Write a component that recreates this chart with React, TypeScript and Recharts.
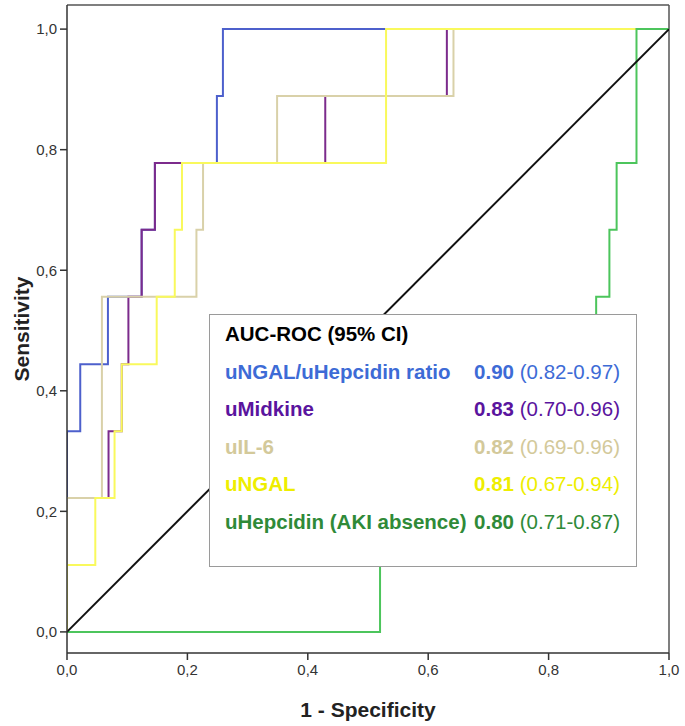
import React from "react";
import { LineChart, Line, XAxis, YAxis, Legend, ReferenceLine } from "recharts";

// ROC corner points (1 - specificity, sensitivity)
const ratioFpr = [0, 0, 0.022, 0.068, 0.124, 0.146, 0.249, 0.259, 1];
const ratioSens = [0, 0.333, 0.444, 0.556, 0.667, 0.778, 0.889, 1, 1];

const midkineFpr = [0, 0, 0.069, 0.091, 0.102, 0.124, 0.146, 0.429, 0.631, 1];
const midkineSens = [0, 0.222, 0.333, 0.444, 0.556, 0.667, 0.778, 0.889, 1, 1];

const il6Fpr = [0, 0, 0.058, 0.215, 0.226, 0.349, 0.642, 1];
const il6Sens = [0, 0.222, 0.556, 0.667, 0.778, 0.889, 1, 1];

const ngalFpr = [0, 0, 0.047, 0.079, 0.091, 0.149, 0.179, 0.191, 0.53, 1];
const ngalSens = [0, 0.111, 0.222, 0.333, 0.444, 0.556, 0.667, 0.778, 1, 1];

const hepcidinFpr = [0, 0.52, 0.879, 0.901, 0.913, 0.946, 1];
const hepcidinSens = [0, 0.444, 0.556, 0.667, 0.778, 1, 1];

const referenceFpr = [0, 1];
const referenceSens = [0, 1];

const axisTicks = [0, 0.2, 0.4, 0.6, 0.8, 1];

const markerNames = ["uNGAL/uHepcidin ratio", "uMidkine", "uIL-6", "uNGAL", "uHepcidin (AKI absence)"];
const aucValues = ["0.90", "0.83", "0.82", "0.81", "0.80"];
const aucIntervals = ["(0.82-0.97)", "(0.70-0.96)", "(0.69-0.96)", "(0.67-0.94)", "(0.71-0.87)"];
const textColors = ["#3d6bd6", "#5a149e", "#d3c99a", "#eeee00", "#2f8a38"];
const lineColors = ["#4d60cc", "#7c2b8c", "#d9d1a9", "#f9f95c", "#4cc55c"];

const toPoints = (fpr: number[], sens: number[]) => fpr.map((x, i) => ({ x, y: sens[i] }));

const curves = [
  toPoints(ratioFpr, ratioSens),
  toPoints(midkineFpr, midkineSens),
  toPoints(il6Fpr, il6Sens),
  toPoints(ngalFpr, ngalSens),
  toPoints(hepcidinFpr, hepcidinSens),
];

const FONT = "Arial, 'Liberation Sans', sans-serif";
const fmt = (v: number) => v.toFixed(1).replace(".", ",");

function AucBox() {
  return (
    <div
      style={{
        width: 428,
        height: 253,
        border: "1px solid #9a9a9a",
        background: "#fff",
        fontFamily: FONT,
        fontSize: 20.5,
        lineHeight: "37.6px",
        padding: "0 16px 0 15px",
        boxSizing: "border-box",
      }}
    >
      <div style={{ fontWeight: "bold", color: "#000" }}>AUC-ROC (95% CI)</div>
      {markerNames.map((name, i) => (
        <div key={name} style={{ display: "flex", justifyContent: "space-between", color: textColors[i], whiteSpace: "nowrap" }}>
          <span style={{ fontWeight: "bold" }}>{name}</span>
          <span>
            <b>{aucValues[i]}</b> {aucIntervals[i]}
          </span>
        </div>
      ))}
    </div>
  );
}

export default function App() {
  return (
    <div style={{ position: "absolute", left: 0, top: 0, background: "#fff" }}>
      <LineChart width={685} height={726} margin={{ top: 5, right: 16, left: 0, bottom: 0 }}>
        <XAxis
          type="number"
          dataKey="x"
          domain={[0, 1]}
          ticks={axisTicks}
          tickFormatter={fmt}
          height={73}
          tickSize={7}
          tickMargin={4}
          stroke="#333"
          strokeWidth={1.5}
          tick={{ fill: "#333", fontSize: 15, fontFamily: FONT }}
          label={{ value: "1 - Specificity", position: "insideBottom", offset: 9, style: { fontFamily: FONT, fontSize: 21, fontWeight: "bold", fill: "#222" } }}
          allowDataOverflow
        />
        <YAxis
          type="number"
          dataKey="y"
          domain={[-0.035, 1.04]}
          ticks={axisTicks}
          tickFormatter={fmt}
          width={67}
          tickSize={7}
          tickMargin={3}
          stroke="#333"
          strokeWidth={1.5}
          tick={{ fill: "#333", fontSize: 15, fontFamily: FONT }}
          label={{ value: "Sensitivity", angle: -90, position: "insideLeft", offset: 22, style: { textAnchor: "middle", fontFamily: FONT, fontSize: 21, fontWeight: "bold", fill: "#222" } }}
          allowDataOverflow
        />
        <ReferenceLine y={1.04} stroke="#555" strokeWidth={1.5} />
        <ReferenceLine x={1} stroke="#555" strokeWidth={1.5} />
        {curves.map((pts, i) => (
          <Line
            key={markerNames[i]}
            data={pts}
            dataKey="y"
            type="stepAfter"
            stroke={lineColors[i]}
            strokeWidth={2}
            dot={false}
            activeDot={false}
            isAnimationActive={false}
          />
        ))}
        <Line
          data={toPoints(referenceFpr, referenceSens)}
          dataKey="y"
          type="linear"
          stroke="#111"
          strokeWidth={2}
          dot={false}
          activeDot={false}
          isAnimationActive={false}
        />
        <Legend
          layout="vertical"
          align="center"
          verticalAlign="middle"
          wrapperStyle={{ left: 209, top: 314, width: 428, height: 253 }}
          content={() => <AucBox />}
        />
      </LineChart>
    </div>
  );
}
